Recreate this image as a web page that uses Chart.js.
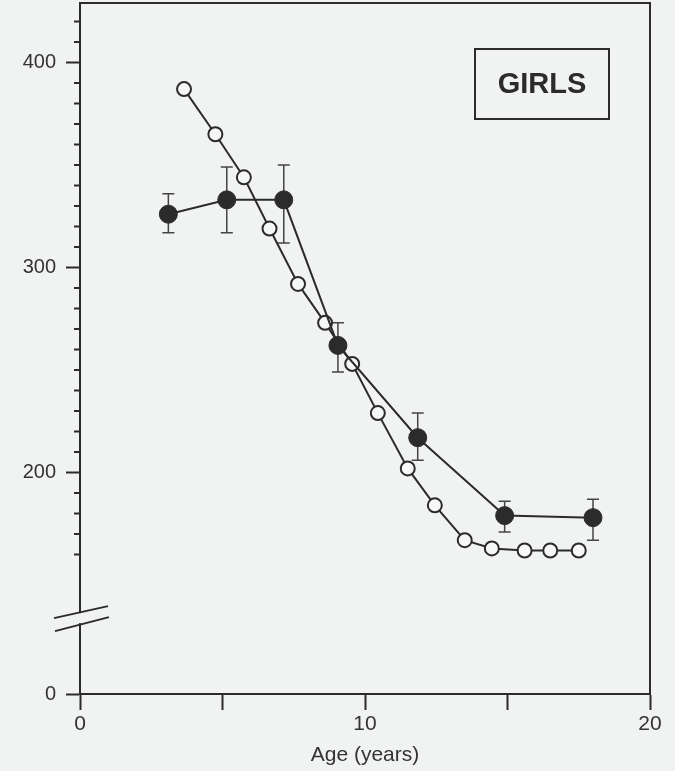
<!DOCTYPE html>
<html>
<head>
<meta charset="utf-8">
<script src="https://cdn.jsdelivr.net/npm/chart.js@4.4.0/dist/chart.umd.min.js"></script>
<style>
  html, body { margin: 0; padding: 0; background: #f1f2f2; }
  canvas { display: block; }
</style>
</head>
<body>
<canvas id="chart" width="675" height="771"></canvas>
<script>
// filled circles: mean with error bars
const meanAge = [3.1, 5.15, 7.15, 9.05, 11.85, 14.9, 18.0];
const meanValue = [326, 333, 333, 262, 217, 179, 178];
const errHigh = [336, 349, 350, 273, 229, 186, 187];
const errLow = [317, 317, 312, 249, 206, 171, 167];

// open circles
const openAge = [3.65, 4.75, 5.75, 6.65, 7.65, 8.6, 9.55, 10.45, 11.5, 12.45, 13.5, 14.45, 15.6, 16.5, 17.5];
const openValue = [387, 365, 344, 319, 292, 273, 253, 229, 202, 184, 167, 163, 162, 162, 162];

const xTicks = [0, 5, 10, 15, 20];
const xTickLabels = ['0', '', '10', '', '20'];
// the axis is broken: the "0" tick sits where 92 would be
const yTicks = [92, 200, 300, 400];
const yTickLabels = ['0', '200', '300', '400'];
const yMinorTicks = [160, 170, 180, 190, 210, 220, 230, 240, 250, 260, 270, 280, 290,
                     310, 320, 330, 340, 350, 360, 370, 380, 390, 410, 420];
const yBreakValue = 129;

const ink = '#2b2b2b';
const bg = '#f1f2f2';
const font = "'Liberation Sans', Arial, Helvetica, sans-serif";

const extrasPlugin = {
    id: 'extras',
    beforeDatasetsDraw(chart) {
        const { ctx, scales: { x, y } } = chart;
        ctx.save();
        ctx.strokeStyle = '#444';
        ctx.lineWidth = 1.5;
        meanAge.forEach((age, i) => {
            const px = x.getPixelForValue(age);
            const top = y.getPixelForValue(errHigh[i]);
            const bot = y.getPixelForValue(errLow[i]);
            ctx.beginPath();
            ctx.moveTo(px, top); ctx.lineTo(px, bot);
            ctx.moveTo(px - 6, top); ctx.lineTo(px + 6, top);
            ctx.moveTo(px - 6, bot); ctx.lineTo(px + 6, bot);
            ctx.stroke();
        });
        ctx.restore();
    },
    afterDraw(chart) {
        const { ctx, chartArea: a, scales: { y } } = chart;
        ctx.save();
        ctx.strokeStyle = ink;
        ctx.lineWidth = 2;
        ctx.strokeRect(a.left, a.top, a.right - a.left, a.bottom - a.top);

        // minor ticks on the y axis
        ctx.beginPath();
        yMinorTicks.forEach(v => {
            const py = y.getPixelForValue(v);
            ctx.moveTo(a.left - 6, py);
            ctx.lineTo(a.left, py);
        });
        ctx.stroke();

        // axis break
        const by = y.getPixelForValue(yBreakValue);
        ctx.fillStyle = bg;
        ctx.fillRect(a.left - 3, by - 5, 6, 10);
        ctx.beginPath();
        ctx.moveTo(a.left - 26, by + 0); ctx.lineTo(a.left + 28, by - 12);
        ctx.moveTo(a.left - 25, by + 13); ctx.lineTo(a.left + 29, by - 1);
        ctx.stroke();

        // GIRLS box
        const bx = a.right - 175, bTop = a.top + 46;
        ctx.strokeRect(bx, bTop, 134, 70);
        ctx.fillStyle = ink;
        ctx.font = "bold 29px " + font;
        ctx.textAlign = 'center';
        ctx.textBaseline = 'middle';
        ctx.fillText('GIRLS', bx + 67, bTop + 36);
        ctx.restore();
    }
};

const ctx = document.getElementById('chart').getContext('2d');
new Chart(ctx, {
    type: 'scatter',
    data: {
        datasets: [{
            label: 'Mean',
            data: meanAge.map((a, i) => ({ x: a, y: meanValue[i] })),
            showLine: true,
            borderColor: ink,
            borderWidth: 2,
            backgroundColor: ink,
            pointBackgroundColor: ink,
            pointBorderColor: ink,
            pointRadius: 9,
            pointBorderWidth: 1,
            tension: 0
        }, {
            label: 'Open',
            data: openAge.map((a, i) => ({ x: a, y: openValue[i] })),
            showLine: true,
            borderColor: ink,
            borderWidth: 2,
            pointBackgroundColor: '#f6f7f7',
            pointBorderColor: ink,
            pointRadius: 7,
            pointBorderWidth: 2,
            tension: 0
        }]
    },
    options: {
        responsive: false,
        animation: false,
        layout: { autoPadding: false, padding: { top: 3, right: 25, left: 0, bottom: 0 } },
        plugins: {
            legend: { display: false },
            tooltip: { enabled: false }
        },
        scales: {
            x: {
                type: 'linear',
                min: 0,
                max: 20,
                afterBuildTicks: scale => { scale.ticks = xTicks.map(v => ({ value: v })); },
                afterFit: scale => {
                    scale.height = 77;
                    scale.paddingLeft = 0;
                    scale.paddingRight = 0;
                },
                ticks: {
                    color: '#333',
                    font: { family: font, size: 21 },
                    padding: 2,
                    maxRotation: 0,
                    autoSkip: false,
                    callback: (v) => xTickLabels[xTicks.indexOf(v)]
                },
                grid: {
                    drawOnChartArea: false,
                    drawTicks: true,
                    tickLength: 16,
                    tickColor: ink,
                    tickWidth: 2
                },
                border: { display: true, color: ink, width: 2 },
                title: {
                    display: true,
                    text: 'Age (years)',
                    color: '#333',
                    font: { family: font, size: 21 },
                    padding: { top: 0, bottom: 3 }
                }
            },
            y: {
                type: 'linear',
                min: 92,
                max: 429,
                afterBuildTicks: scale => { scale.ticks = yTicks.map(v => ({ value: v })); },
                afterFit: scale => {
                    scale.width = 80;
                    scale.paddingTop = 0;
                    scale.paddingBottom = 0;
                },
                ticks: {
                    color: '#333',
                    font: { family: font, size: 20 },
                    padding: 10,
                    autoSkip: false,
                    callback: (v) => yTickLabels[yTicks.indexOf(v)]
                },
                grid: {
                    drawOnChartArea: false,
                    drawTicks: true,
                    tickLength: 14,
                    tickColor: ink,
                    tickWidth: 2
                },
                border: { display: true, color: ink, width: 2 }
            }
        }
    },
    plugins: [extrasPlugin]
});
</script>
</body>
</html>
